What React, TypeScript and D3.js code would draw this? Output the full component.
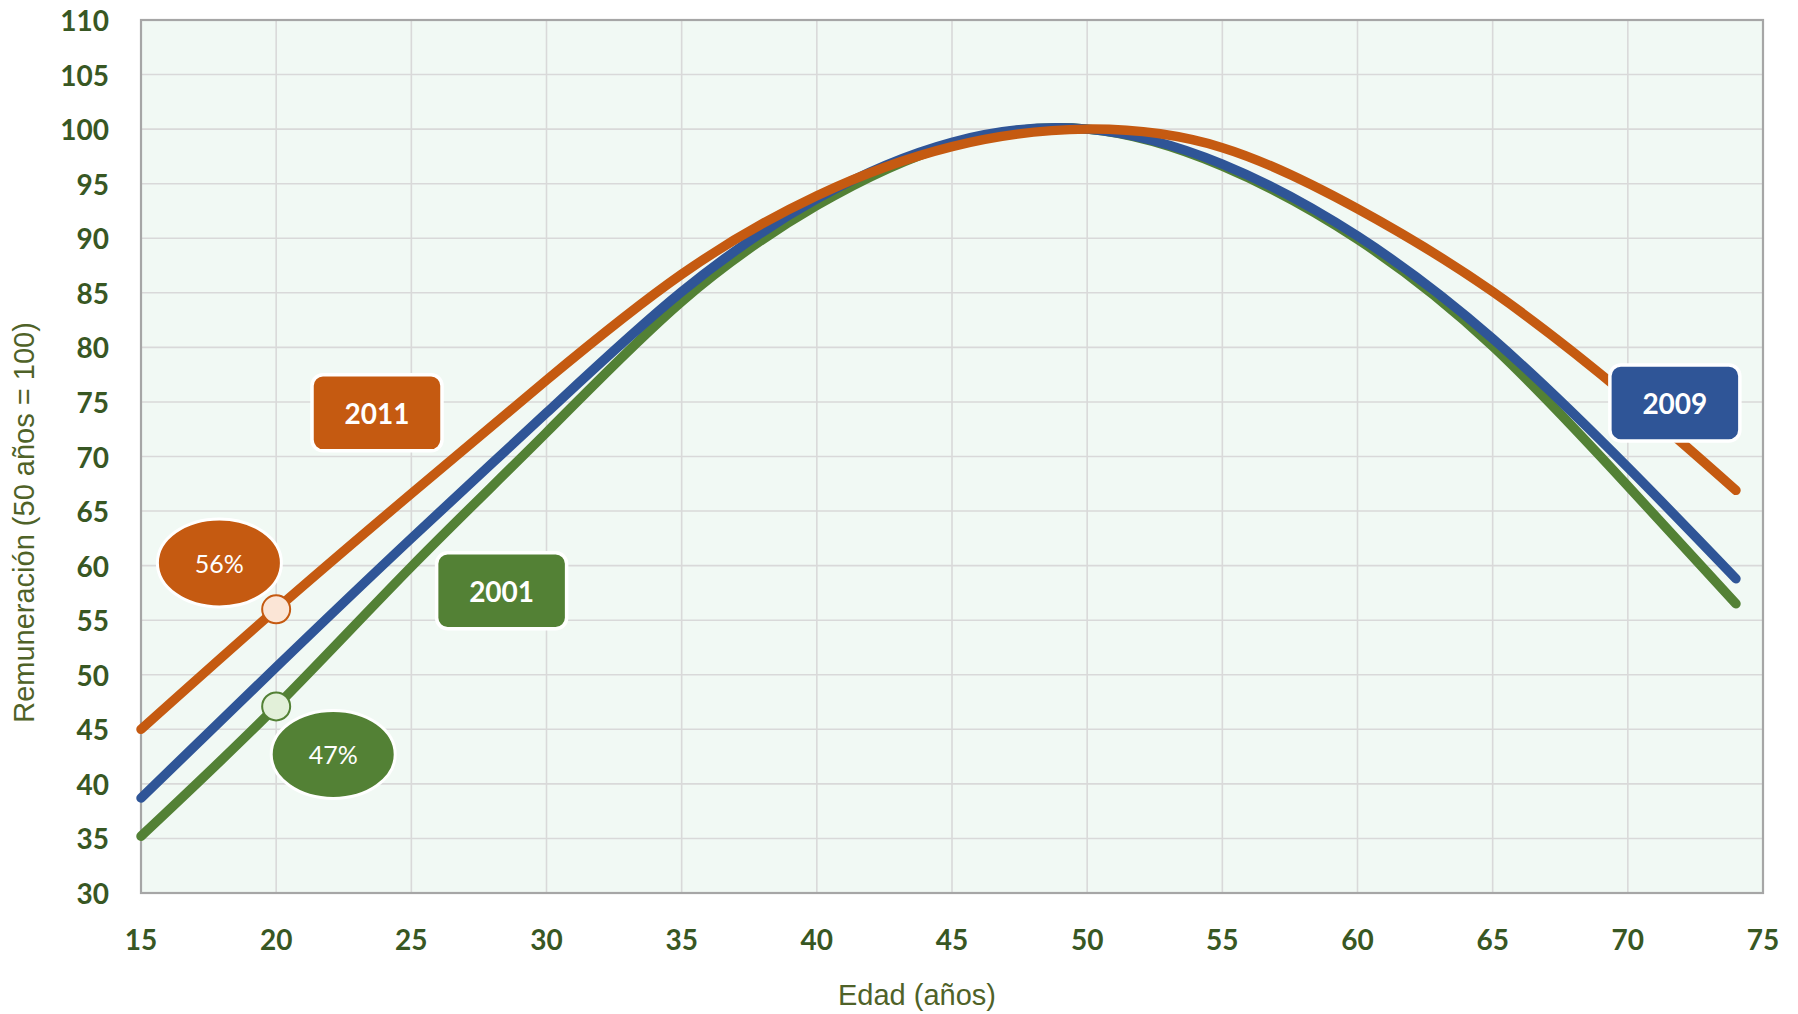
import React from "react";
import * as d3 from "d3";

const ages = [15, 20, 25, 30, 35, 40, 45, 50, 55, 60, 65, 70, 74];
const serie2011 = [45.0, 56.0, 66.6, 77.0, 86.7, 93.9, 98.4, 100, 98.3, 92.7, 85.1, 75.5, 66.9];
const serie2009 = [38.7, 50.7, 62.5, 74.0, 85.1, 93.6, 98.8, 100, 96.8, 90.2, 80.8, 69.0, 58.8];
const serie2001 = [35.2, 47.1, 59.9, 72.2, 84.2, 93.0, 98.6, 100, 96.6, 89.9, 80.1, 67.3, 56.5];

const xTicks = [15, 20, 25, 30, 35, 40, 45, 50, 55, 60, 65, 70, 75];
const yTicks = [30, 35, 40, 45, 50, 55, 60, 65, 70, 75, 80, 85, 90, 95, 100, 105, 110];

const seriesNames = ["2001", "2009", "2011"];
const seriesColors: Record<string, string> = { "2001": "#538135", "2009": "#2F5597", "2011": "#C55A11" };

// annotation anchors (data units)
const yearLabels = [
  { name: "2011", age: 23.73, value: 74.0 },
  { name: "2001", age: 28.34, value: 57.7 },
  { name: "2009", age: 71.74, value: 74.9 },
];
const pctLabels = [
  { text: "56%", age: 17.9, value: 60.25, color: "#C55A11" },
  { text: "47%", age: 22.11, value: 42.7, color: "#538135" },
];
const markers = [
  { age: 20, value: 56.0, fill: "#FBE5D6", stroke: "#C55A11" },
  { age: 20, value: 47.1, fill: "#E2F0D9", stroke: "#538135" },
];

const W = 1798;
const H = 1014;
const M = { left: 141, right: 35, top: 20, bottom: 121 };

export default function App() {
  const x = d3.scaleLinear().domain([15, 75]).range([M.left, W - M.right]);
  const y = d3.scaleLinear().domain([30, 110]).range([H - M.bottom, M.top]);
  const line = d3
    .line<[number, number]>()
    .x((d) => x(d[0]))
    .y((d) => y(d[1]))
    .curve(d3.curveNatural);

  const data: Record<string, number[]> = { "2001": serie2001, "2009": serie2009, "2011": serie2011 };
  const tickColor = "#385723";
  const titleColor = "#4F6228";
  const boldFont = "Lato, 'Open Sans', sans-serif";

  return (
    <svg
      width={W}
      height={H}
      style={{ position: "absolute", left: 0, top: 0, display: "block" }}
    >
      <rect x={0} y={0} width={W} height={H} fill="#ffffff" />
      <rect
        x={x(15)}
        y={y(110)}
        width={x(75) - x(15)}
        height={y(30) - y(110)}
        fill="#F1F9F4"
      />
      {xTicks.map((t) => (
        <line key={"gx" + t} x1={x(t)} x2={x(t)} y1={y(110)} y2={y(30)} stroke="#D9D9D9" strokeWidth={1.6} />
      ))}
      {yTicks.map((t) => (
        <line key={"gy" + t} x1={x(15)} x2={x(75)} y1={y(t)} y2={y(t)} stroke="#D9D9D9" strokeWidth={1.6} />
      ))}
      <rect
        x={x(15)}
        y={y(110)}
        width={x(75) - x(15)}
        height={y(30) - y(110)}
        fill="none"
        stroke="#A6A6A6"
        strokeWidth={2.2}
      />
      {yTicks.map((t) => (
        <text
          key={"ty" + t}
          x={x(15) - 32}
          y={y(t)}
          textAnchor="end"
          dominantBaseline="central"
          fontFamily={boldFont}
          fontWeight={700}
          fontSize={28}
          fill={tickColor}
        >
          {t}
        </text>
      ))}
      {xTicks.map((t) => (
        <text
          key={"tx" + t}
          x={x(t)}
          y={y(30) + 46}
          textAnchor="middle"
          dominantBaseline="central"
          fontFamily={boldFont}
          fontWeight={700}
          fontSize={28}
          fill={tickColor}
        >
          {t}
        </text>
      ))}
      <text
        x={917}
        y={995}
        textAnchor="middle"
        dominantBaseline="central"
        fontFamily="'Liberation Sans', Arial, sans-serif"
        fontSize={29}
        fill={titleColor}
      >
        Edad (años)
      </text>
      <text
        transform={`translate(24, ${(y(30) + y(110)) / 2 + 66}) rotate(-90)`}
        textAnchor="middle"
        dominantBaseline="central"
        fontFamily="'Liberation Sans', Arial, sans-serif"
        fontSize={29}
        fill={titleColor}
      >
        Remuneración (50 años = 100)
      </text>

      {seriesNames.map((name) => {
        const pts = ages.map((a, i) => [a, data[name][i]] as [number, number]);
        return (
          <path
            key={name}
            d={line(pts) || ""}
            fill="none"
            stroke={seriesColors[name]}
            strokeWidth={9.5}
            strokeLinecap="round"
            strokeLinejoin="round"
          />
        );
      })}

      {markers.map((m, i) => (
        <circle key={"m" + i} cx={x(m.age)} cy={y(m.value)} r={14} fill={m.fill} stroke={m.stroke} strokeWidth={2} />
      ))}

      {pctLabels.map((p) => (
        <g key={p.text}>
          <ellipse cx={x(p.age)} cy={y(p.value)} rx={62} ry={44} fill={p.color} stroke="#ffffff" strokeWidth={3} />
          <text
            x={x(p.age)}
            y={y(p.value)}
            textAnchor="middle"
            dominantBaseline="central"
            fontFamily={boldFont}
            fontSize={25}
            fill="#ffffff"
          >
            {p.text}
          </text>
        </g>
      ))}

      {yearLabels.map((l) => (
        <g key={l.name}>
          <rect
            x={x(l.age) - 65}
            y={y(l.value) - 38}
            width={130}
            height={76}
            rx={11}
            fill={seriesColors[l.name]}
            stroke="#ffffff"
            strokeWidth={3.5}
          />
          <text
            x={x(l.age)}
            y={y(l.value)}
            textAnchor="middle"
            dominantBaseline="central"
            fontFamily={boldFont}
            fontWeight={700}
            fontSize={28}
            fill="#ffffff"
          >
            {l.name}
          </text>
        </g>
      ))}
    </svg>
  );
}
